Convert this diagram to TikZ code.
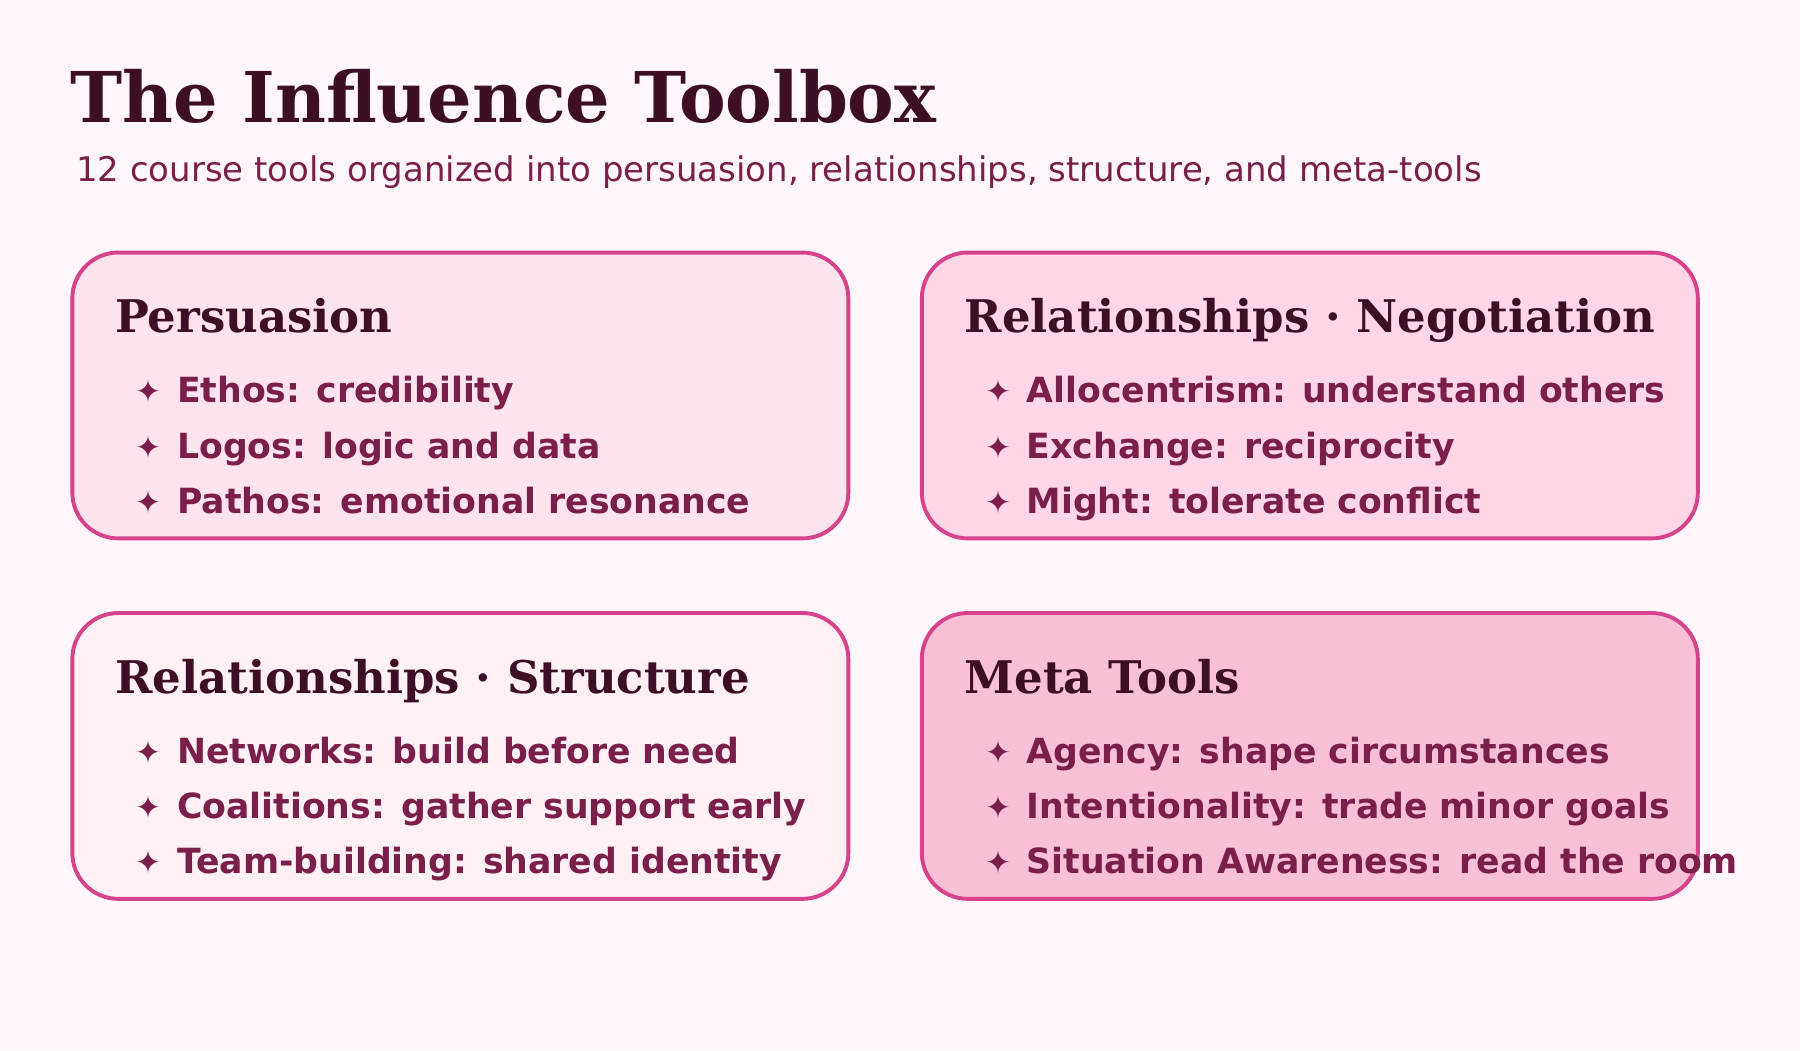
\documentclass[tikz,border=0pt]{standalone}
\usepackage{fontspec}
\setmainfont{DejaVu Serif}
\setsansfont{DejaVu Sans}
\newfontfamily\symf{DejaVu Sans}
\definecolor{bg}{HTML}{FFF6FB}
\definecolor{ttl}{HTML}{3D0F25}
\definecolor{txt}{HTML}{7A1E4A}
\definecolor{brd}{HTML}{D6438A}
\definecolor{fa}{HTML}{FDE3EE}
\definecolor{fb}{HTML}{FED6E7}
\definecolor{fc}{HTML}{FFF0F6}
\definecolor{fd}{HTML}{F8C0D7}
\begin{document}
\begin{tikzpicture}[x=0.5pt,y=-0.5pt,
  box/.style={draw=brd,line width=1.7pt,rounded corners=20pt},
  head/.style={anchor=base west,inner sep=0,font=\bfseries\fontsize{19.6}{24}\selectfont,text=ttl},
  item/.style={anchor=base west,inner sep=0,font=\sffamily\bfseries\fontsize{15.1}{18}\selectfont,text=txt},
  star/.style={anchor=base west,inner sep=0,font=\symf\fontsize{13.5}{16}\selectfont,text=txt}]
\fill[bg] (0,0) rectangle (1568,915);
\useasboundingbox (0,0) rectangle (1568,915);
\node[anchor=base west,inner sep=0,font=\bfseries\fontsize{30.5}{36}\selectfont,text=ttl] (title) at (61,107) {The Influence Toolbox};
\node[anchor=base west,inner sep=0,font=\sffamily\fontsize{14.8}{18}\selectfont,text=txt] (sub) at (66,158) {12 course tools organized into persuasion, relationships, structure, and meta-tools};
\newcommand{\mybox}[7]{%
  \draw[box,fill=#3] (#1,#2) rectangle ++(676,249);
  \node[head] at (#1+37,#2+70) {#4};
  \node[star] at (#1+55,#2+131) {✦};
  \node[item] at (#1+91,#2+131) {#5};
  \node[star] at (#1+55,#2+179) {✦};
  \node[item] at (#1+91,#2+179) {#6};
  \node[star] at (#1+55,#2+227) {✦};
  \node[item] at (#1+91,#2+227) {#7};}
\mybox{63}{220}{fa}{Persuasion}{Ethos: credibility}{Logos: logic and data}{Pathos: emotional resonance}
\mybox{803}{220}{fb}{Relationships · Negotiation}{Allocentrism: understand others}{Exchange: reciprocity}{Might: tolerate conflict}
\mybox{63}{534}{fc}{Relationships · Structure}{Networks: build before need}{Coalitions: gather support early}{Team-building: shared identity}
\mybox{803}{534}{fd}{Meta Tools}{Agency: shape circumstances}{Intentionality: trade minor goals}{Situation Awareness: read the room}
\end{tikzpicture}
\end{document}
